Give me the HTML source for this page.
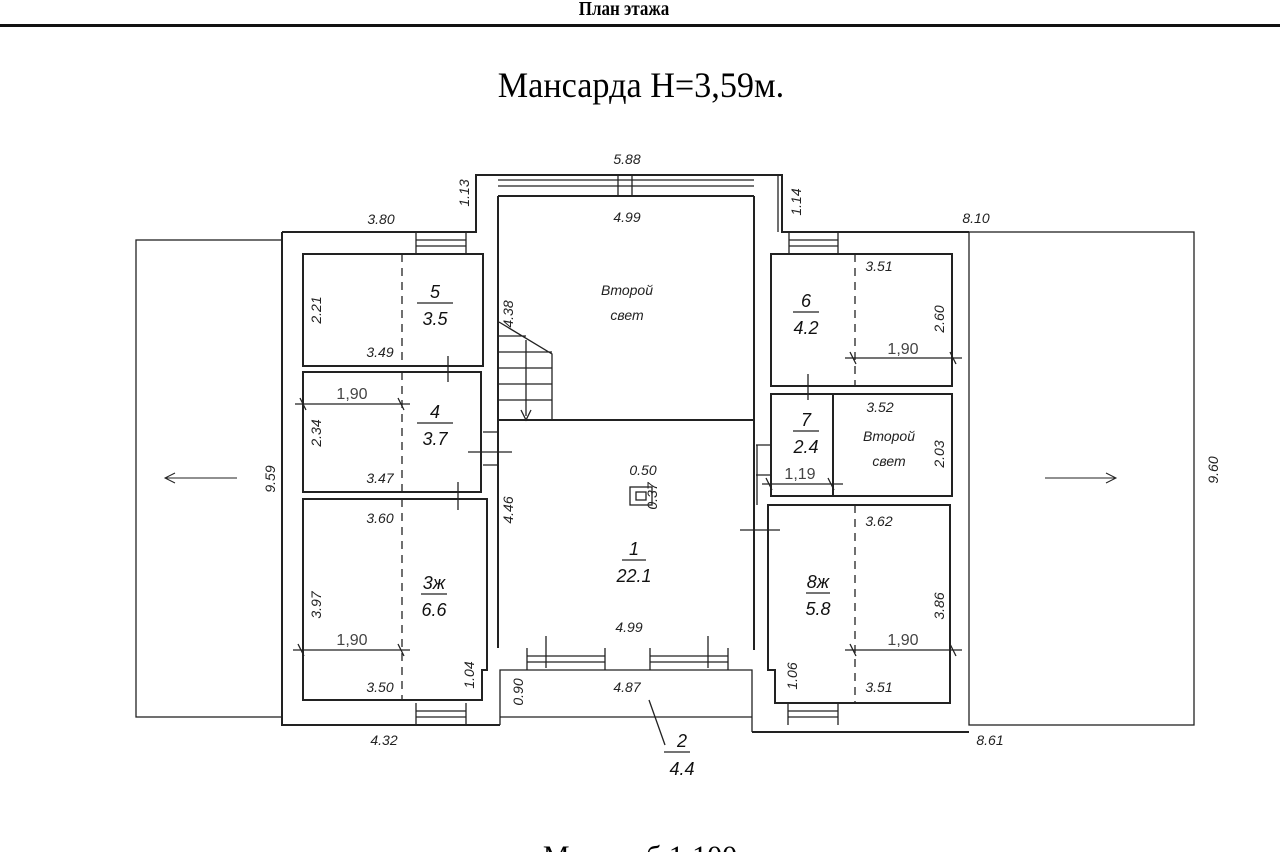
<!DOCTYPE html>
<html><head><meta charset="utf-8"><style>
html,body{margin:0;padding:0;background:#fff;width:1280px;height:852px;overflow:hidden}
svg{display:block}
.d{font-family:"Liberation Sans",sans-serif;font-style:italic;font-size:14px;fill:#222}
.n{font-family:"Liberation Sans",sans-serif;font-style:italic;font-size:18px;fill:#111}
.g{font-family:"Liberation Sans",sans-serif;font-size:16px;fill:#444}
</style></head><body>
<svg width="1280" height="852" viewBox="0 0 1280 852" xmlns="http://www.w3.org/2000/svg">
<text x="624" y="15" text-anchor="middle" font-family="Liberation Serif,serif" font-weight="bold" font-size="20" transform="translate(624 0) scale(0.85 1) translate(-624 0)">План этажа</text>
<rect x="0" y="24" width="1280" height="3" fill="#111"/>
<text x="641" y="97" text-anchor="middle" font-family="Liberation Serif,serif" font-size="36" transform="translate(641 0) scale(0.95 1) translate(-641 0)">Мансарда  H=3,59м.</text>

<g fill="none" stroke="#222" stroke-width="1.3">
<rect x="136" y="240" width="146" height="477"/>
<rect x="969" y="232" width="225" height="493"/>
<path d="M282 232 H476 V175 H782 V232 H969 M282 232 V725 H500 M752 732 H969" stroke-width="2"/>
<path d="M500 725 V670 H752 V732" />
<path d="M498 196 V648 M754 196 V650 M498 196 H754" stroke-width="2"/>
<path d="M498 420 H754" stroke-width="2"/>
<path d="M778 175 V232"/>
<rect x="303" y="254" width="180" height="112" stroke-width="2"/>
<rect x="303" y="372" width="178" height="120" stroke-width="2"/>
<path d="M303 499 H487 V670 H482 V700 H303 Z" stroke-width="2"/>
<rect x="771" y="254" width="181" height="132" stroke-width="2"/>
<rect x="771" y="394" width="181" height="102" stroke-width="2"/>
<path d="M833 394 V496" stroke-width="2"/>
<path d="M768 505 H950 V703 H775 V670 H768 Z" stroke-width="2"/>
<g stroke-dasharray="8 6">
<path d="M402 254 V366 M402 372 V492 M402 499 V700 M855 254 V386 M855 505 V703"/>
</g>
<path d="M498 180 H754 M498 186 H754 M498 196 H754 M618 175 V196 M632 175 V196"/>
<path d="M416 232 V254 M466 232 V254 M416 240 H466 M416 246 H466"/>
<path d="M789 232 V254 M838 232 V254 M789 240 H838 M789 246 H838"/>
<path d="M416 703 V725 M466 703 V725 M416 711 H466 M416 717 H466"/>
<path d="M788 703 V725 M838 703 V725 M788 711 H838 M788 717 H838"/>
<path d="M527 648 V670 M605 648 V670 M527 656 H605 M527 662 H605 M650 648 V670 M728 648 V670 M650 656 H728 M650 662 H728"/>
<path d="M500 717 H752"/>
<path d="M499 322 L552 354 V420 M526 340 V416 M499 336 H526 M499 352 H552 M499 368 H552 M499 384 H552 M499 400 H552"/>
<path d="M521 410 L526 420 L531 410"/>
<path d="M448 356 V382 M458 482 V510 M468 452 H512 M740 530 H780 M808 374 V400 M546 636 V668 M708 636 V668 M436 492 H481"/>
<path d="M483 432 H498 M483 465 H498 M756 445 H771 M756 475 H771 M757 445 V505"/>
<path d="M295 404 H410 M300 398 L306 410 M398 398 L404 410"/>
<path d="M293 650 H410 M298 644 L304 656 M398 644 L404 656"/>
<path d="M845 358 H962 M850 352 L856 364 M950 352 L956 364"/>
<path d="M845 650 H962 M850 644 L856 656 M950 644 L956 656"/>
<path d="M762 484 H843 M766 478 L772 490 M828 478 L834 490"/>
<path d="M649 700 L665 745"/>
<path d="M165 478 H237 M175 473 L165 478 L175 483 M1045 478 H1116 M1106 473 L1116 478 L1106 483" stroke-width="1"/>
<rect x="630" y="487" width="22" height="18"/><rect x="636" y="492" width="10" height="8"/>
<path d="M417 303 H453 M417 423 H453 M421 594 H447 M622 560 H646 M793 312 H819 M793 431 H819 M806 593 H830 M664 752 H690"/>
</g>

<g class="n" text-anchor="middle">
<text x="435" y="298">5</text><text x="435" y="325">3.5</text>
<text x="435" y="418">4</text><text x="435" y="445">3.7</text>
<text x="434" y="589">3ж</text><text x="434" y="616">6.6</text>
<text x="634" y="555">1</text><text x="634" y="582">22.1</text>
<text x="806" y="307">6</text><text x="806" y="334">4.2</text>
<text x="806" y="426">7</text><text x="806" y="453">2.4</text>
<text x="818" y="588">8ж</text><text x="818" y="615">5.8</text>
<text x="682" y="747">2</text><text x="682" y="775">4.4</text>
</g>
<g class="d" text-anchor="middle">
<text x="627" y="295">Второй</text><text x="627" y="320">свет</text>
<text x="889" y="441">Второй</text><text x="889" y="466">свет</text>
<text x="627" y="164">5.88</text><text x="627" y="222">4.99</text>
<text x="381" y="224">3.80</text><text x="976" y="223">8.10</text>
<text x="380" y="357">3.49</text><text x="380" y="483">3.47</text>
<text x="380" y="523">3.60</text><text x="380" y="692">3.50</text>
<text x="879" y="271">3.51</text><text x="880" y="412">3.52</text>
<text x="879" y="526">3.62</text><text x="879" y="692">3.51</text>
<text x="643" y="475">0.50</text><text x="629" y="632">4.99</text>
<text x="627" y="692">4.87</text>
<text x="384" y="745">4.32</text><text x="990" y="745">8.61</text>
</g>
<g class="g" text-anchor="middle">
<text x="352" y="399">1,90</text><text x="352" y="645">1,90</text>
<text x="903" y="354">1,90</text><text x="903" y="645">1,90</text>
<text x="800" y="479">1,19</text>
</g>
<g class="d" text-anchor="middle">
<text transform="translate(469 193) rotate(-90)">1.13</text>
<text transform="translate(801 202) rotate(-90)">1.14</text>
<text transform="translate(321 310) rotate(-90)">2.21</text>
<text transform="translate(321 433) rotate(-90)">2.34</text>
<text transform="translate(321 605) rotate(-90)">3.97</text>
<text transform="translate(474 675) rotate(-90)">1.04</text>
<text transform="translate(513 314) rotate(-90)">4.38</text>
<text transform="translate(513 510) rotate(-90)">4.46</text>
<text transform="translate(657 496) rotate(-90)">0.37</text>
<text transform="translate(944 319) rotate(-90)">2.60</text>
<text transform="translate(944 454) rotate(-90)">2.03</text>
<text transform="translate(944 606) rotate(-90)">3.86</text>
<text transform="translate(797 676) rotate(-90)">1.06</text>
<text transform="translate(523 692) rotate(-90)">0.90</text>
<text transform="translate(275 479) rotate(-90)">9.59</text>
<text transform="translate(1218 470) rotate(-90)">9.60</text>
</g>
<text x="640" y="866" text-anchor="middle" font-family="Liberation Serif,serif" font-size="30">Масштаб 1:100</text>
</svg>
</body></html>
